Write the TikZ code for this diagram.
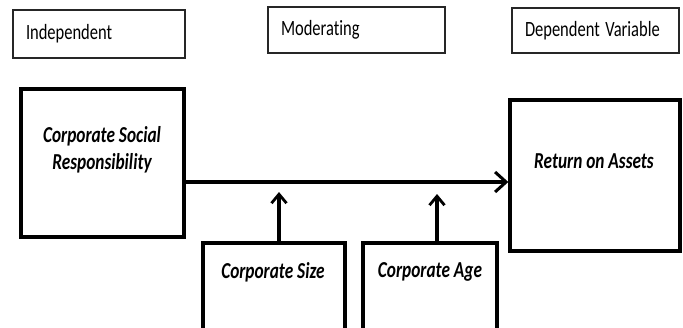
\documentclass[tikz,border=0pt]{standalone}
\usepackage{fontspec}
\usepackage{graphicx}
\setmainfont{Carlito}[Ligatures=NoCommon]
\usetikzlibrary{arrows.meta}
% tall, narrow lettering
\newcommand{\tall}[1]{\scalebox{1}[1.32]{#1}}
\tikzset{
  headbox/.style={draw=black!85, line width=1.4pt, rectangle, inner xsep=13pt,
    align=left, font=\fontsize{16.5pt}{19pt}\selectfont},
  varbox/.style={draw=black, line width=3.4pt, rectangle, inner sep=0pt},
  vartext/.style={font=\fontsize{17.3pt}{19pt}\selectfont\bfseries\itshape, align=center, inner sep=0pt},
  link/.style={line width=3.4pt, -{Straight Barb[length=11pt,width=20pt,line width=3pt]}},
  uplink/.style={line width=3.2pt, -{Straight Barb[length=9pt,width=15pt,line width=2.8pt]}}
}
\begin{document}
\begin{tikzpicture}[x=1pt,y=1pt]
\useasboundingbox (0,0) rectangle (683,-327);
\clip (0,0) rectangle (683,-327);

% column headings
\node[headbox, minimum height=48pt, text width=146pt] (indep) at (99,-34) {\tall{Independent}};
\node[headbox, minimum height=46pt, text width=151pt] (moder) at (356.5,-30) {\tall{Moderating}};
\node[headbox, minimum height=45pt, text width=141pt] (depen) at (595.5,-30.5) {\tall{Dependent Variable}};

% variable boxes
\node[varbox, minimum width=163pt, minimum height=148pt] (csr) at (102.5,-163) {};
\node[vartext] (csrtext) at (102,-150) {\tall{Corporate Social}\\[6pt]\tall{Responsibility}};

\node[varbox, minimum width=170pt, minimum height=151pt] (roa) at (595,-175.5) {};
\node[vartext] (roatext) at (594,-161) {\tall{Return on Assets}};

\node[varbox, minimum width=142pt, minimum height=100pt] (size) at (274,-293) {};
\node[vartext] (sizetext) at (273,-272) {\tall{Corporate Size}};

\node[varbox, minimum width=134pt, minimum height=100pt] (age) at (430,-293) {};
\node[vartext] (agetext) at (430,-272) {\tall{Corporate Age}};

% arrows
\coordinate (sizetip) at (279,-192);
\coordinate (agetip) at (437,-194);
\draw[link] ([yshift=-19pt]csr.east) -- ([yshift=-6.5pt]roa.west);
\draw[uplink] ([xshift=5pt]size.north) -- (sizetip);
\draw[uplink] ([xshift=7pt]age.north) -- (agetip);
\end{tikzpicture}
\end{document}
